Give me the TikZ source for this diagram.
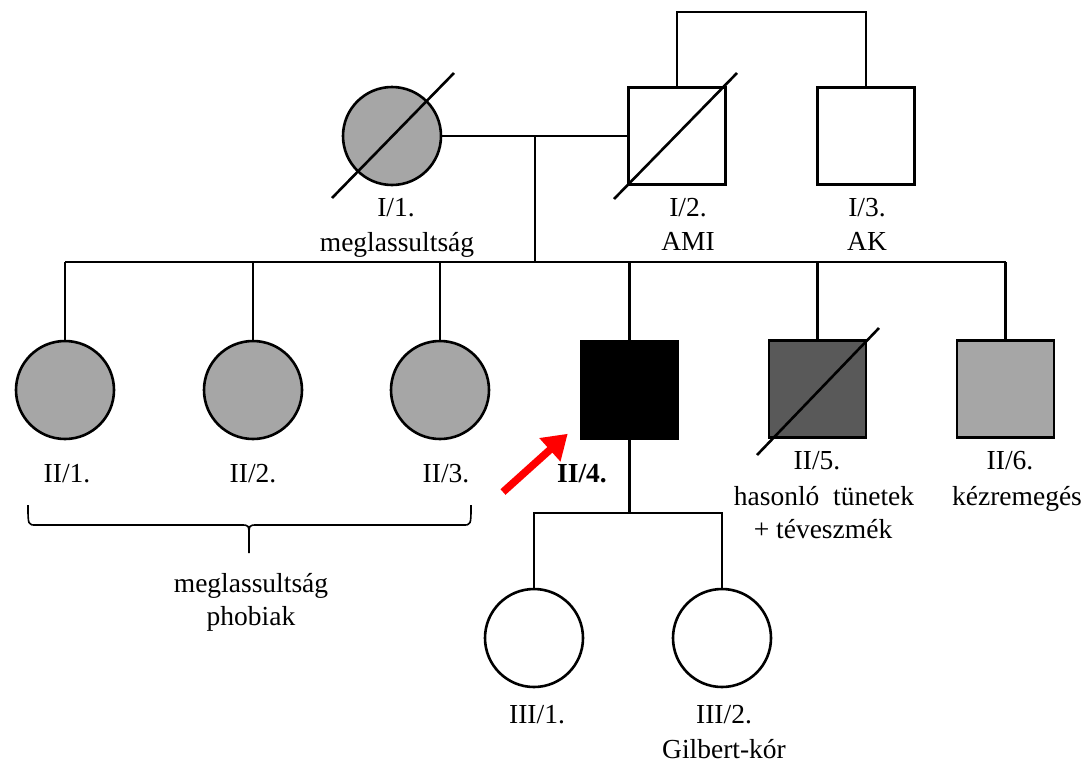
\documentclass[tikz,border=0pt]{standalone}
\usepackage{fontspec}
\setmainfont{Liberation Serif}
\usetikzlibrary{arrows.meta}
\definecolor{lgrey}{HTML}{A6A6A6}
\definecolor{dgrey}{HTML}{595959}
\definecolor{arrred}{HTML}{FF0000}
\begin{document}
\begin{tikzpicture}[x=1pt,y=-1pt,
  line width=2.6pt,
  fem/.style={circle,draw,minimum size=98pt,inner sep=0pt,line width=2.6pt},
  mal/.style={rectangle,draw,minimum size=97pt,inner sep=0pt,line width=2.6pt},
  lbl/.style={anchor=base,inner sep=0pt,font=\fontsize{27.5}{33}\selectfont},
  conn/.style={line width=2.6pt},
  slash/.style={line width=2.6pt},
]
\useasboundingbox (0,0) rectangle (1089,763);

% generation I
\node[fem,fill=lgrey] (i1) at (392,136) {};
\node[mal] (i2) at (677,136) {};
\node[mal] (i3) at (866,136) {};
% generation II
\node[fem,fill=lgrey] (ii1) at (65,390) {};
\node[fem,fill=lgrey] (ii2) at (253,390) {};
\node[fem,fill=lgrey] (ii3) at (440,390) {};
\node[mal,fill=black] (ii4) at (629.5,390) {};
\node[mal,fill=dgrey] (ii5) at (817.5,389) {};
\node[mal,fill=lgrey] (ii6) at (1005.5,389) {};
% generation III
\node[fem] (iii1) at (534,638) {};
\node[fem] (iii2) at (722,638) {};

% slashes (deceased)
\draw[slash] ([shift={(-60,62)}]i1.center) -- ([shift={(62,-63)}]i1.center);
\draw[slash] ([shift={(-63,63)}]i2.center) -- ([shift={(60,-63)}]i2.center);
\draw[slash] ([shift={(-60.5,66)}]ii5.center) -- ([shift={(61.5,-61)}]ii5.center);

% connectors
\coordinate (tb) at (0,12);
\draw[conn] (i2.north) -- (i2.north |- tb) -- (i3.north |- tb) -- (i3.north);
\draw[conn] (i1.east) -- (i2.west);
\coordinate (m1) at (535,136);
\coordinate (s1) at (535,262);
\draw[conn] (m1) -- (s1);
\coordinate (sbL) at (65,262);
\coordinate (sbR) at (1006,262);
\draw[conn] (sbL) -- (sbR);
\foreach \c in {ii1,ii2,ii3,ii4,ii5,ii6}
  \draw[conn] (\c.north) -- (\c.north |- sbL);
\coordinate (sb2) at (0,513);
\draw[conn] (ii4.south) -- (ii4.south |- sb2);
\draw[conn] (iii1.north) -- (iii1.north |- sb2) -- (iii2.north |- sb2) -- (iii2.north);

% brace
\coordinate (brL) at (28,505);
\coordinate (brR) at (471,505);
\coordinate (brT) at (249,553);
\draw[line width=1.6pt] (brL) .. controls (28,525) .. (36,525) -- (241,525)
  .. controls (249,525) .. (249,537) -- (brT);
\draw[line width=1.6pt] (brR) .. controls (471,525) .. (463,525) -- (257,525)
  .. controls (249,525) .. (249,537);

% proband arrow
\coordinate (arrtail) at (503,492);
\draw[arrred,line width=7.5pt,-{Triangle[length=24pt,width=30pt]}] (arrtail) -- ([shift={(-12,-6)}]ii4.south west);

% labels
\node[lbl] (l1) at (396,216) {I/1.};
\node[lbl] (l1b) at (397,251) {meglassultság};
\node[lbl] (l2) at (688,216) {I/2.};
\node[lbl] (l2b) at (688,250) {AMI};
\node[lbl] (l3) at (867,216) {I/3.};
\node[lbl] (l3b) at (867,250) {AK};
\node[lbl] (l4) at (67,482) {II/1.};
\node[lbl] (l5) at (253,482) {II/2.};
\node[lbl] (l6) at (446,482) {II/3.};
\node[lbl,font=\fontsize{27.5}{33}\selectfont\bfseries] (l7) at (582,482) {II/4.};
\node[lbl] (l8) at (817,469) {II/5.};
\node[lbl] (l8b) at (824,505) {hasonló\ \ tünetek};
\node[lbl] (l8c) at (823,538) {+ téveszmék};
\node[lbl] (l9) at (1010,469) {II/6.};
\node[lbl] (l9b) at (1017,505) {kézremegés};
\node[lbl] (lg1) at (251,592) {meglassultság};
\node[lbl] (lg2) at (251,625) {phobiak};
\node[lbl] (l10) at (537,723) {III/1.};
\node[lbl] (l11) at (724,723) {III/2.};
\node[lbl] (l11b) at (724,758) {Gilbert-kór};
\end{tikzpicture}
\end{document}
